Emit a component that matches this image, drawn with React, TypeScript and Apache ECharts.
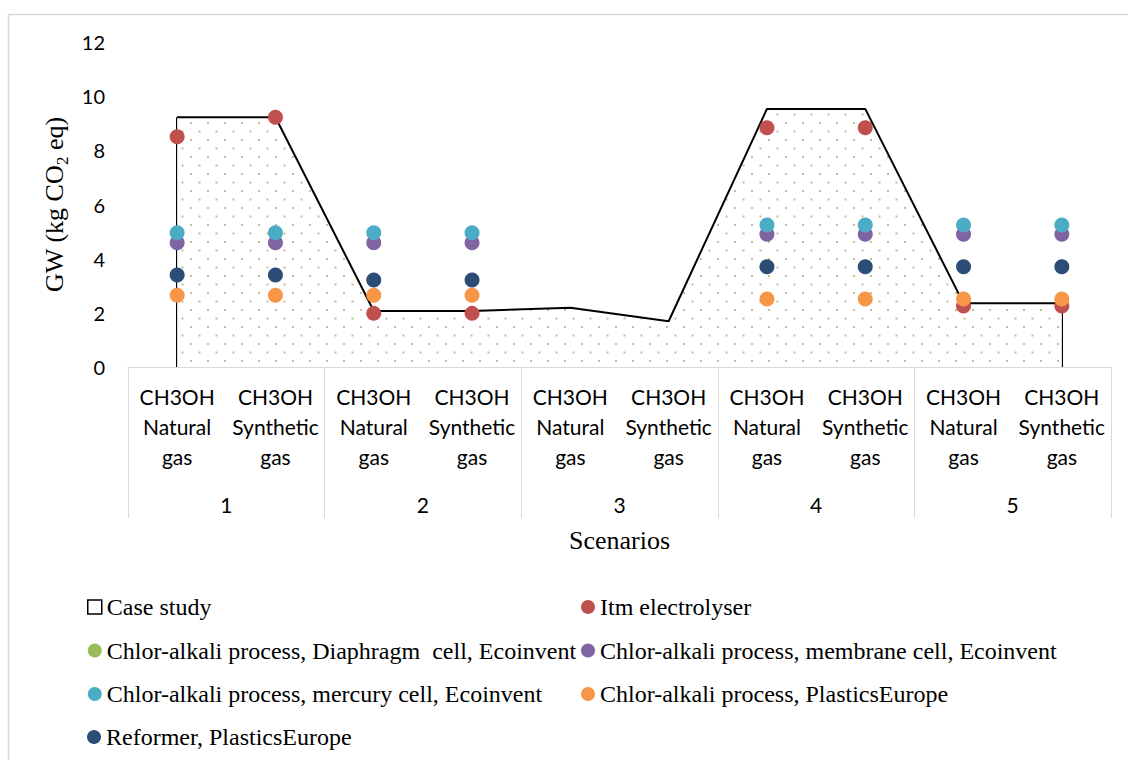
import React, { useEffect, useRef } from "react";
import * as echarts from "echarts";

const categories = [
  "CH3OH\nNatural\ngas",
  "CH3OH\nSynthetic\ngas",
  "CH3OH\nNatural\ngas",
  "CH3OH\nSynthetic\ngas",
  "CH3OH\nNatural\ngas",
  "CH3OH\nSynthetic\ngas",
  "CH3OH\nNatural\ngas",
  "CH3OH\nSynthetic\ngas",
  "CH3OH\nNatural\ngas",
  "CH3OH\nSynthetic\ngas",
];
const scenarios = ["1", "2", "3", "4", "5"];

const caseStudy = [9.22, 9.22, 2.07, 2.07, 2.19, 1.69, 9.53, 9.53, 2.35, 2.35];
const itmElectrolyser = [8.5, 9.22, 1.98, 1.98, null, null, 8.83, 8.83, 2.25, 2.25];
const diaphragmCell = [null, null, null, null, null, null, null, null, null, null];
const membraneCell = [4.59, 4.59, 4.59, 4.59, null, null, 4.9, 4.9, 4.9, 4.9];
const mercuryCell = [4.96, 4.96, 4.96, 4.96, null, null, 5.24, 5.24, 5.24, 5.24];
const plasticsEurope = [2.65, 2.65, 2.65, 2.65, null, null, 2.51, 2.51, 2.51, 2.51];
const reformer = [3.4, 3.4, 3.21, 3.21, null, null, 3.7, 3.7, 3.7, 3.7];

const names = {
  case: "Case study",
  itm: "Itm electrolyser",
  dia: "Chlor-alkali process, Diaphragm  cell, Ecoinvent",
  mem: "Chlor-alkali process, membrane cell, Ecoinvent",
  mer: "Chlor-alkali process, mercury cell, Ecoinvent",
  pla: "Chlor-alkali process, PlasticsEurope",
  ref: "Reformer, PlasticsEurope",
};

function makePattern(): HTMLCanvasElement {
  const c = document.createElement("canvas");
  c.width = 17;
  c.height = 17;
  const ctx = c.getContext("2d")!;
  ctx.fillStyle = "#ffffff";
  ctx.fillRect(0, 0, 17, 17);
  ctx.fillStyle = "#c9bd96";
  ctx.fillRect(3, 3, 2, 2);
  ctx.fillRect(11.5, 11.5, 2, 2);
  return c;
}

export default function App() {
  const ref = useRef<HTMLDivElement>(null);
  useEffect(() => {
    if (!ref.current) return;
    const chart = echarts.init(ref.current, null, { renderer: "svg" });
    const pattern = makePattern();
    const dot = (name: string, color: string, data: (number | null)[]) => ({
      name,
      type: "scatter",
      data,
      symbol: "circle",
      symbolSize: 15,
      z: 5,
      itemStyle: { color, opacity: 1 },
      xAxisIndex: 0,
      yAxisIndex: 0,
    });
    const legendText = {
      fontFamily: "Liberation Serif",
      fontSize: 24,
      color: "#000",
      lineHeight: 26,
    };
    const legendBase = {
      orient: "vertical",
      padding: 0,
      itemWidth: 14,
      itemHeight: 14,
      itemGap: 17.5,
      selectedMode: false,
      textStyle: legendText,
    };
    chart.setOption({
      animation: false,
      backgroundColor: "#ffffff",
      grid: { left: 128, right: 17, top: 42, bottom: 393, containLabel: false },
      xAxis: [
        {
          type: "category",
          data: categories,
          boundaryGap: true,
          position: "bottom",
          axisLine: { show: true, lineStyle: { color: "#d9d9d9", width: 1 } },
          axisTick: { show: false },
          axisLabel: {
            interval: 0,
            margin: 14,
            fontFamily: "Lato",
            fontSize: 21,
            lineHeight: 30,
            color: "#000",
          },
          splitLine: { show: false },
        },
        {
          type: "category",
          data: scenarios,
          boundaryGap: true,
          position: "bottom",
          axisLine: { show: false },
          axisTick: {
            show: true,
            inside: false,
            length: 151,
            interval: 0,
            lineStyle: { color: "#d9d9d9", width: 1 },
          },
          axisLabel: {
            interval: 0,
            margin: 127,
            fontFamily: "Lato",
            fontSize: 21,
            color: "#000",
          },
          name: "Scenarios",
          nameLocation: "middle",
          nameGap: 160,
          nameTextStyle: { fontFamily: "Liberation Serif", fontSize: 26, color: "#000" },
          splitLine: { show: false },
        },
      ],
      yAxis: {
        type: "value",
        min: 0,
        max: 12,
        interval: 2,
        axisLine: { show: false },
        axisTick: { show: false },
        splitLine: { show: false },
        axisLabel: { margin: 23, fontFamily: "Lato", fontSize: 20, color: "#000" },
        name: "{n|GW (kg CO}{s|2}{n| eq)}",
        nameLocation: "middle",
        nameRotate: 90,
        nameGap: 52,
        nameTextStyle: {
          rich: {
            n: { fontFamily: "Liberation Serif", fontSize: 26, color: "#000", lineHeight: 32 },
            s: {
              fontFamily: "Liberation Serif",
              fontSize: 17,
              color: "#000",
              lineHeight: 17,
              verticalAlign: "bottom",
            },
          },
        },
      },
      legend: [
        {
          ...legendBase,
          left: 87,
          top: 594,
          data: [
            {
              name: names.case,
              icon: "rect",
              itemStyle: { color: "#ffffff", borderColor: "#000", borderWidth: 1.5 },
            },
            { name: names.dia, icon: "circle" },
            { name: names.mer, icon: "circle" },
          ],
        },
        {
          ...legendBase,
          left: 87,
          top: 724,
          data: [{ name: names.ref, icon: "circle" }],
        },
        {
          ...legendBase,
          left: 581,
          top: 594,
          data: [
            { name: names.itm, icon: "circle" },
            { name: names.mem, icon: "circle" },
            { name: names.pla, icon: "circle" },
          ],
        },
      ],
      graphic: [
        {
          type: "rect",
          silent: true,
          shape: { x: 8.5, y: 14.5, width: 1130, height: 760 },
          style: { fill: "none", stroke: "#d9d9d9", lineWidth: 1.5 },
          z: -1,
        },
      ],
      series: [
        {
          name: names.case,
          type: "line",
          z: 1,
          data: caseStudy,
          symbol: "none",
          lineStyle: { color: "#000", width: 2 },
          itemStyle: { color: "#000" },
          areaStyle: {
            color: { image: pattern, repeat: "repeat", imageWidth: 17, imageHeight: 17 } as any,
            opacity: 1,
          },
          markLine: {
            silent: true,
            symbol: "none",
            z: 1,
            label: { show: false },
            lineStyle: { color: "#000", width: 2, type: "solid" },
            data: [
              [{ coord: [0, 0] }, { coord: [0, caseStudy[0]] }],
              [
                { coord: [caseStudy.length - 1, 0] },
                { coord: [caseStudy.length - 1, caseStudy[caseStudy.length - 1]] },
              ],
            ],
          },
        },
        dot(names.itm, "#c0504d", itmElectrolyser),
        dot(names.dia, "#9bbb59", diaphragmCell),
        dot(names.mem, "#8064a2", membraneCell),
        dot(names.mer, "#4bacc6", mercuryCell),
        dot(names.pla, "#f79646", plasticsEurope),
        dot(names.ref, "#2c4d75", reformer),
      ],
    });
    return () => chart.dispose();
  }, []);
  return (
    <div
      ref={ref}
      style={{ position: "fixed", left: 0, top: 0, width: 1128, height: 760, background: "#fff" }}
    />
  );
}
